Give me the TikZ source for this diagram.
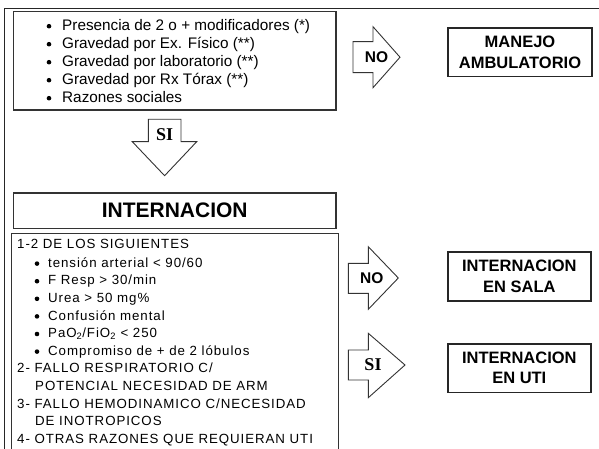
\documentclass[tikz,border=0pt]{standalone}
\usepackage{fontspec}
\setmainfont{Liberation Sans}
\newfontfamily\serifb{Liberation Serif}
\newfontfamily\lowfont{Liberation Sans}[LetterSpace=7]
\tikzset{
  frame/.style={line width=1.4pt, draw=black!85},
  box/.style={line width=1.6pt, draw=black!80},
  rbox/.style={line width=1.6pt, draw=black!85, align=center, inner sep=0pt,
    font=\bfseries\fontsize{16.5}{20.5}\selectfont},
  barrow/.style={line width=0.9pt, draw=black!80, fill=white},
  dot/.style={circle, fill=black, inner sep=0pt, minimum size=4.6pt},
  toptext/.style={anchor=base west, inner sep=0pt, font=\fontsize{15.3}{18}\selectfont},
  lowtext/.style={anchor=base west, inner sep=0pt, font=\lowfont\fontsize{13.3}{16}\selectfont},
  notext/.style={inner sep=0pt, font=\bfseries\fontsize{15.5}{18}\selectfont},
  sitext/.style={inner sep=0pt, font=\serifb\bfseries\fontsize{18}{20}\selectfont},
}
\begin{document}
\begin{tikzpicture}[x=1pt,y=-1pt]
\useasboundingbox (0,0) rectangle (599,449);
% outer frame
\draw[frame] (4.5,452) -- (4.5,8.5) -- (602,8.5);
% top box
\draw[box] (13.3,11.7) rectangle (336,110);
\foreach \yy/\name/\txt in {30.4/t1/{Presencia de 2 o + modificadores (*)},
  48.4/t2/{Gravedad por Ex. Físico (**)},
  66.4/t3/{Gravedad por laboratorio (**)},
  84.4/t4/{Gravedad por Rx Tórax (**)},
  102.4/t5/{Razones sociales}}{
  \node[dot] (d\name) at (49,\yy-4.2) {};
  \node[toptext] (\name) at (62,\yy) {\txt};
}
% NO arrow (top)
\draw[barrow] (353,41.7) -- (373,41.7) -- (373,26.7) -- (400,57.2) -- (373,87.7) -- (373,72.7) -- (353,72.7) -- cycle;
\node[notext] (no1) at (376.5,57.2) {NO};
\node[rbox, minimum width=144pt, minimum height=48.4pt] (manejo) at (520,52.5) {MANEJO\\AMBULATORIO};
% SI arrow (down)
\draw[barrow] (148.3,119.3) -- (181,119.3) -- (181,141.7) -- (196.7,141.7) -- (164.6,175.7) -- (132.3,141.7) -- (148.3,141.7) -- cycle;
\node[sitext] (si1) at (164.6,135) {SI};
% INTERNACION
\node[box, minimum width=322.7pt, minimum height=35.3pt, inner sep=0pt,
  font=\bfseries\fontsize{21}{24}\selectfont] (intern) at (174.7,210.7) {INTERNACION};
% lower box
\draw[box] (11.5,452) -- (11.5,233.5) -- (338.5,233.5) -- (338.5,452);
\node[lowtext] (l0) at (17,248.7) {1-2 DE LOS SIGUIENTES};
\foreach \yy/\name/\txt in {267.2/b1/{tensión arterial < 90/60},
  284.8/b2/{F Resp > 30/min},
  302.4/b3/{Urea > 50 mg\%},
  320.0/b4/{Confusión mental},
  337.6/b5/{PaO\textsubscript{2}/FiO\textsubscript{2} < 250},
  355.2/b6/{Compromiso de + de 2 lóbulos}}{
  \node[dot] (d\name) at (37,\yy-3.6) {};
  \node[lowtext] (\name) at (48,\yy) {\txt};
}
\node[lowtext] (l2) at (17,372.8) {2- FALLO RESPIRATORIO C/};
\node[lowtext] (l2b) at (35,390.4) {POTENCIAL NECESIDAD DE ARM};
\node[lowtext] (l3) at (17,408.0) {3- FALLO HEMODINAMICO C/NECESIDAD};
\node[lowtext] (l3b) at (35,425.6) {DE INOTROPICOS};
\node[lowtext] (l4) at (17,443.2) {4- OTRAS RAZONES QUE REQUIERAN UTI};
% NO arrow (lower)
\draw[barrow] (348.3,263.3) -- (368.3,263.3) -- (368.3,246.7) -- (398.3,278) -- (368.3,309.3) -- (368.3,293.3) -- (348.3,293.3) -- cycle;
\node[notext] (no2) at (371.7,278) {NO};
\node[rbox, minimum width=143pt, minimum height=49pt] (sala) at (519.3,276.2) {INTERNACION\\EN SALA};
% SI arrow (lower)
\draw[barrow] (348.3,350) -- (368.3,350) -- (368.3,333.3) -- (405,365) -- (368.3,397.7) -- (368.3,380) -- (348.3,380) -- cycle;
\node[sitext] (si2) at (373,365) {SI};
\node[rbox, minimum width=143pt, minimum height=48.6pt] (uti) at (519.3,368) {INTERNACION\\EN UTI};
\end{tikzpicture}
\end{document}
